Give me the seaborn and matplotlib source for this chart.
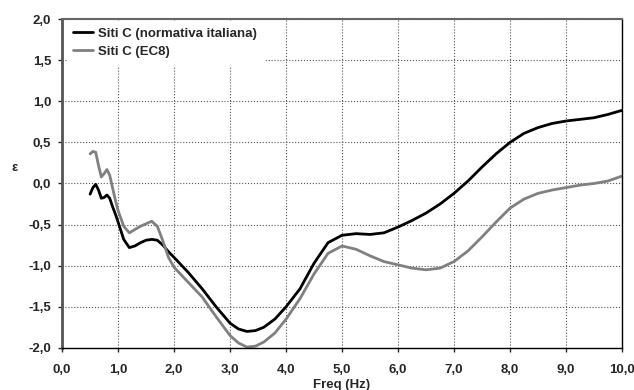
import pandas as pd
import seaborn as sns
import matplotlib.pyplot as plt
from matplotlib.ticker import FuncFormatter, MultipleLocator

sns.set_theme(style='white')
plt.rcParams['font.family'] = ['Liberation Sans', 'DejaVu Sans']

freq = [0.5, 0.55, 0.6, 0.65, 0.7, 0.75, 0.8, 0.85, 0.9, 0.95, 1.0, 1.1, 1.2, 1.3, 1.4,
        1.5, 1.6, 1.7, 1.8, 1.9, 2.0, 2.25, 2.5, 2.75, 3.0, 3.15, 3.3, 3.45, 3.6, 3.8,
        4.0, 4.25, 4.5, 4.75, 5.0, 5.25, 5.5, 5.75, 6.0, 6.25, 6.5, 6.75, 7.0, 7.25,
        7.5, 7.75, 8.0, 8.25, 8.5, 8.75, 9.0, 9.25, 9.5, 9.75, 10.0]

eps_ita = [-0.13, -0.05, -0.01, -0.08, -0.18, -0.17, -0.14, -0.18, -0.28, -0.37, -0.47,
           -0.68, -0.78, -0.76, -0.72, -0.69, -0.68, -0.69, -0.75, -0.83, -0.90, -1.08,
           -1.28, -1.50, -1.70, -1.77, -1.80, -1.79, -1.75, -1.65, -1.50, -1.28, -0.97,
           -0.72, -0.63, -0.61, -0.62, -0.60, -0.53, -0.45, -0.36, -0.25, -0.12, 0.03,
           0.20, 0.36, 0.50, 0.61, 0.68, 0.73, 0.76, 0.78, 0.80, 0.84, 0.89]

eps_ec8 = [0.36, 0.39, 0.38, 0.22, 0.08, 0.12, 0.17, 0.10, -0.05, -0.20, -0.33,
           -0.52, -0.60, -0.56, -0.52, -0.49, -0.46, -0.52, -0.70, -0.90, -1.02, -1.20,
           -1.38, -1.62, -1.85, -1.94, -1.99, -1.98, -1.93, -1.82, -1.65, -1.40, -1.10,
           -0.85, -0.76, -0.80, -0.88, -0.95, -0.99, -1.03, -1.05, -1.03, -0.95, -0.82,
           -0.65, -0.47, -0.30, -0.19, -0.12, -0.08, -0.05, -0.02, 0.00, 0.03, 0.09]

series = ['Siti C (normativa italiana)', 'Siti C (EC8)']

df = pd.concat([
    pd.DataFrame({'freq': freq, 'eps': eps_ita, 'serie': series[0]}),
    pd.DataFrame({'freq': freq, 'eps': eps_ec8, 'serie': series[1]}),
])

fig, ax = plt.subplots(figsize=(6.34, 3.9), dpi=100)
fig.subplots_adjust(left=0.098, right=0.981, top=0.951, bottom=0.108)

sns.lineplot(data=df, x='freq', y='eps', hue='serie', hue_order=series,
             palette=['#000000', '#808080'], linewidth=2, sort=False, ax=ax)

ax.set_xlim(0, 10)
ax.set_ylim(-2, 2)
ax.xaxis.set_major_locator(MultipleLocator(1))
ax.yaxis.set_major_locator(MultipleLocator(0.5))
fmt = FuncFormatter(lambda v, p: f'{v:.1f}'.replace('.', ','))
ax.xaxis.set_major_formatter(fmt)
ax.yaxis.set_major_formatter(fmt)

ax.grid(True, color='#555555', linestyle=':', linewidth=0.8)
ax.tick_params(axis='both', labelsize=9.5, length=3, width=1, direction='out',
               bottom=True, left=True)
ax.tick_params(axis='x', pad=8.5)
ax.tick_params(axis='y', pad=5)
for lab in ax.get_xticklabels() + ax.get_yticklabels():
    lab.set_fontweight('bold')

ax.spines['left'].set_color('#555555')
ax.spines['left'].set_linewidth(2)
ax.spines['top'].set_color('#666666')
ax.spines['top'].set_linewidth(1.5)
ax.spines['right'].set_color('black')
ax.spines['right'].set_linewidth(1)
ax.spines['bottom'].set_color('black')
ax.spines['bottom'].set_linewidth(1)

ax.set_xlabel('Freq (Hz)', fontsize=9.5, fontweight='bold', labelpad=2)
ax.set_ylabel('ε', fontsize=9.5, fontweight='bold', rotation=0)
ax.yaxis.set_label_coords(-0.085, 0.53)

leg = ax.legend(loc='upper left', bbox_to_anchor=(0.008, 0.994), frameon=True,
                fancybox=False, edgecolor='white', framealpha=1, fontsize=9.5,
                handlelength=1.5, handletextpad=0.4, borderaxespad=0,
                borderpad=0.5, labelspacing=0.45)
for t in leg.get_texts():
    t.set_fontweight('bold')

fig.savefig('out.png', dpi=100)
